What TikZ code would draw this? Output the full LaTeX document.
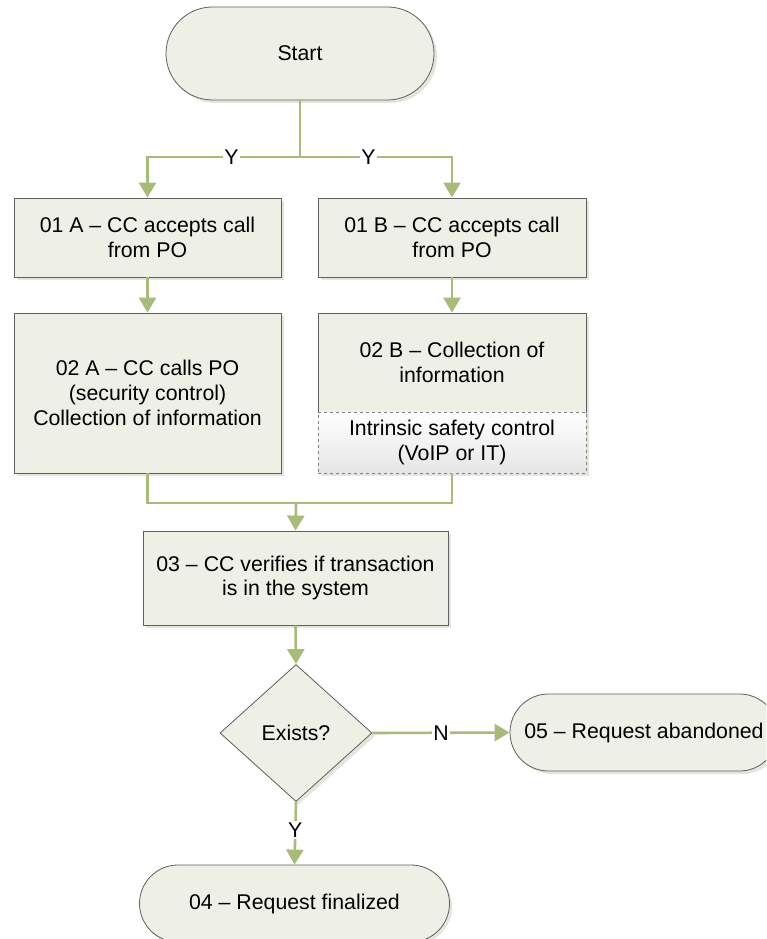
\documentclass[tikz,border=0pt]{standalone}
\usepackage{fontspec}
\setmainfont{Liberation Sans}
\usetikzlibrary{arrows.meta,shapes.geometric,calc}
\definecolor{boxfill}{RGB}{238,240,230}
\definecolor{boxedge}{RGB}{95,95,95}
\definecolor{conncol}{RGB}{168,188,122}
\definecolor{shadecol}{RGB}{228,230,220}
\tikzset{
  base/.style={draw=boxedge, line width=0.8pt, fill=boxfill, align=center,
    font=\fontsize{21.3}{24.8}\selectfont, inner sep=0pt, text=black},
  procbox/.style={base, rectangle, minimum width=267pt},
  termbox/.style={base, rectangle, rounded corners=#1, minimum height=2*#1},
  decbox/.style={base, diamond, minimum width=152pt, minimum height=137pt},
  subbox/.style={draw=boxedge!80, dashed, line width=0.8pt, top color=white,
    bottom color=black!10, align=center, font=\fontsize{21.3}{24.8}\selectfont,
    inner sep=0pt, minimum width=268pt, minimum height=61pt},
  conn/.style={draw=conncol, line width=2.6pt},
  arr/.style={conn, -{Triangle[width=17pt,length=15pt]}, shorten >=0pt},
  lab/.style={fill=white, inner sep=1.5pt, font=\fontsize{21.3}{24.8}\selectfont},
  shadow/.style={fill=shadecol, draw=none}
}
\begin{document}
\begin{tikzpicture}[x=1pt,y=-1pt]
  \useasboundingbox (0,0) rectangle (766,939);
  \clip (0,0) rectangle (766,939);
  \fill[white] (0,0) rectangle (766,939);

  % soft shadows under the shapes
  \fill[shadow, rounded corners=46.5pt] (169,10) rectangle (437,103);
  \fill[shadow] (17,201) rectangle (284,280);
  \fill[shadow] (321,201) rectangle (589,280);
  \fill[shadow] (17,316) rectangle (284,476);
  \fill[shadow] (321,316) rectangle (589,476);
  \fill[shadow] (146,534) rectangle (451,628);
  \fill[shadow] (299,667) -- (375,736) -- (299,804) -- (223,736) -- cycle;
  \fill[shadow, rounded corners=38.5pt] (513,697) rectangle (781,774);
  \fill[shadow, rounded corners=38.5pt] (142,868) rectangle (452,945);

  % shapes
  \node[termbox=46.5pt, minimum width=268pt] (start) at (300,53.5) {Start};
  \node[procbox, minimum height=79pt] (a1) at (147.5,237.5) {01 A -- CC accepts call\\from PO};
  \node[procbox, minimum width=268pt, minimum height=79pt] (b1) at (452,237.5) {01 B -- CC accepts call\\from PO};
  \node[procbox, minimum height=160pt] (a2) at (147.5,393) {02 A -- CC calls PO\\(security control)\\Collection of information};
  \node[procbox, minimum width=268pt, minimum height=99pt] (b2) at (452,362.5) {02 B -- Collection of\\information};
  \node[subbox] (b2s) at (452,442.5) {Intrinsic safety control\\(VoIP or IT)};
  \node[procbox, minimum width=305pt, minimum height=94pt] (c3) at (295.5,578) {03 -- CC verifies if transaction\\is in the system};
  \node[decbox] (dec) at (296,733) {Exists?};
  \node[termbox=38.5pt, minimum width=268pt] (ab) at (644,732.5) {05 -- Request abandoned};
  \node[termbox=38.5pt, minimum width=310pt] (fin) at (294.5,903.5) {04 -- Request finalized};

  % connectors
  \coordinate (fork) at (300,157);
  \coordinate (merge) at (296,503);
  \draw[conn] (start.south) -- (fork);
  \draw[arr] (fork) -- node[lab, pos=0.45] {Y} (fork -| a1.north) -- (a1.north);
  \draw[arr] (fork) -- node[lab, pos=0.45] {Y} (fork -| b1.north) -- (b1.north);
  \draw[arr] (a1.south) -- (a2.north);
  \draw[arr] (b1.south) -- (b2.north);
  \draw[conn] (a2.south) |- (merge) -| (b2s.south);
  \draw[arr] (merge) -- (c3.north);
  \draw[arr] (c3.south) -- (dec.north);
  \draw[arr] (dec.east) -- node[lab, pos=0.5] {N} (ab.west);
  \draw[arr] (dec.south) -- node[lab, pos=0.45] {Y} (fin.north);
\end{tikzpicture}
\end{document}
